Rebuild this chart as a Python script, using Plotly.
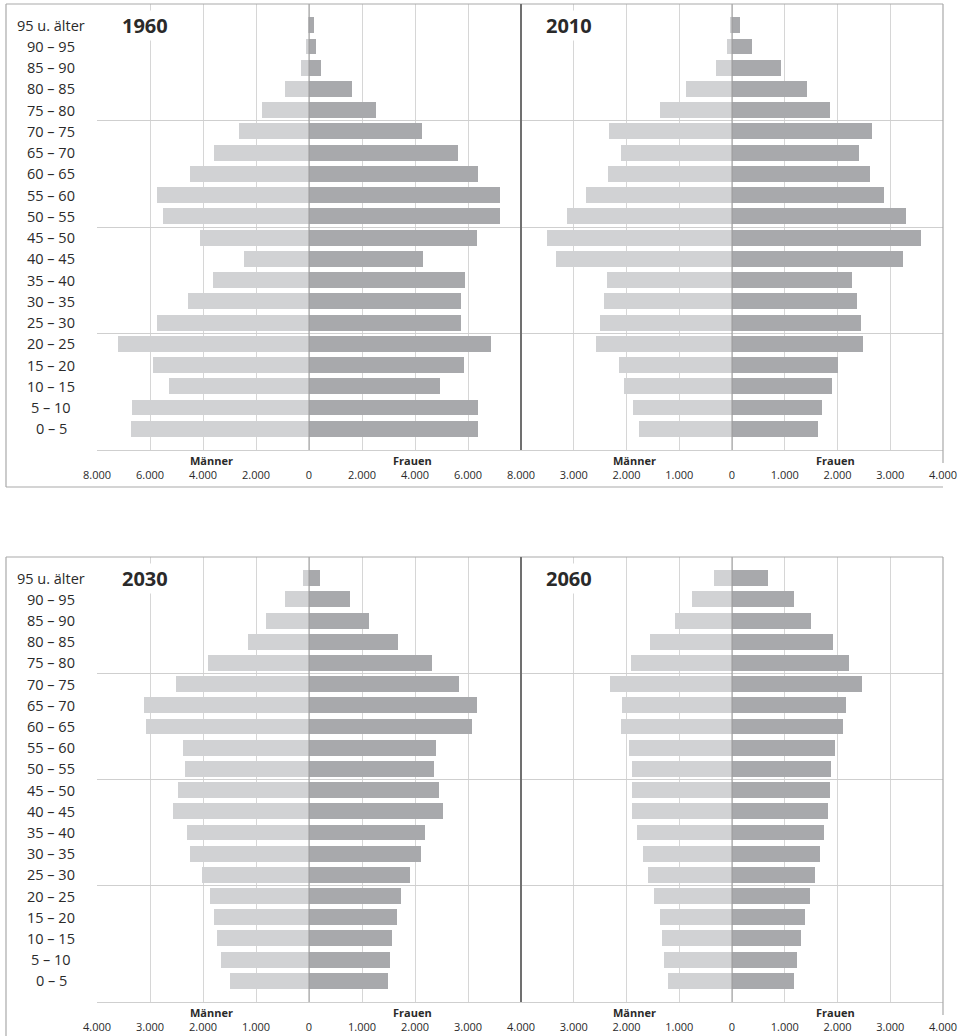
import plotly.graph_objects as go

# ---------------- data (thousands) ----------------
age_groups = ["0 – 5", "5 – 10", "10 – 15", "15 – 20", "20 – 25", "25 – 30", "30 – 35",
              "35 – 40", "40 – 45", "45 – 50", "50 – 55", "55 – 60", "60 – 65", "65 – 70",
              "70 – 75", "75 – 80", "80 – 85", "85 – 90", "90 – 95", "95 u. älter"]

years = ["1960", "2010", "2030", "2060"]

men_1960 = [6715, 6675, 5275, 5880, 7205, 5730, 4555, 3610, 2435, 4100,
            5500, 5730, 4480, 3570, 2625, 1780, 920, 315, 125, 30]
women_1960 = [6385, 6385, 4945, 5855, 6875, 5740, 5740, 5890, 4300, 6345,
              7220, 7220, 6385, 5630, 4265, 2510, 1630, 450, 250, 190]

men_2010 = [1760, 1875, 2045, 2140, 2575, 2500, 2425, 2370, 3335, 3505,
            3125, 2765, 2350, 2105, 2330, 1365, 880, 310, 100, 20]
women_2010 = [1630, 1705, 1895, 2010, 2480, 2445, 2370, 2275, 3240, 3580,
              3295, 2880, 2615, 2405, 2655, 1855, 1420, 925, 385, 160]

men_2030 = [1500, 1655, 1730, 1785, 1860, 2010, 2240, 2295, 2560, 2465,
            2335, 2370, 3075, 3110, 2505, 1905, 1145, 820, 445, 120]
women_2030 = [1490, 1525, 1565, 1660, 1735, 1905, 2115, 2190, 2530, 2455,
              2360, 2400, 3080, 3175, 2830, 2330, 1685, 1135, 775, 210]

men_2060 = [1215, 1290, 1330, 1365, 1480, 1595, 1690, 1805, 1900, 1900,
            1900, 1955, 2110, 2090, 2315, 1920, 1555, 1080, 760, 340]
women_2060 = [1175, 1235, 1310, 1385, 1480, 1575, 1670, 1745, 1825, 1860,
              1880, 1955, 2110, 2165, 2470, 2220, 1920, 1500, 1175, 685]

ticks_1960 = [-8000, -6000, -4000, -2000, 0, 2000, 4000, 6000, 8000]
ticks_left = [-4000, -3000, -2000, -1000, 0, 1000, 2000, 3000, 4000]
ticks_right = [-3000, -2000, -1000, 0, 1000, 2000, 3000, 4000]
group_lines = [4.5, 9.5, 14.5]

label_men = "Männer"
label_women = "Frauen"

# ---------------- styling ----------------
W, H = 961, 1036
MEN_COLOR = "#d1d2d4"
WOMEN_COLOR = "#a8a9ac"
GRID = "#d6d6d6"
FRAME = "#a9a9a9"
TXT = "#2a2a2a"
FONT = "Open Sans"


def px(x):
    return x / W


def py(y):
    return 1 - y / H


def fmt(v):
    return f"{abs(v):,}".replace(",", ".")


panels = [
    ("1960", men_1960, women_1960, "x", "y", (97, 521), (4, 450), 8000, ticks_1960),
    ("2010", men_2010, women_2010, "x2", "y2", (521, 943), (4, 450), 4000, ticks_right),
    ("2030", men_2030, women_2030, "x3", "y3", (97, 521), (557, 1002), 4000, ticks_left),
    ("2060", men_2060, women_2060, "x4", "y4", (521, 943), (557, 1002), 4000, ticks_right),
]

fig = go.Figure()
idx = list(range(len(age_groups)))

annotations = []
shapes = []

for year, men, women, xa, ya, (x0, x1), (y0, y1), rng, ticks in panels:
    fig.add_trace(go.Bar(
        y=idx, x=[-v for v in men], orientation="h", width=0.75,
        marker=dict(color=MEN_COLOR, line=dict(width=0)),
        xaxis=xa, yaxis=ya, name=label_men, showlegend=False,
        customdata=men, hovertemplate="%{customdata}<extra>" + label_men + "</extra>"))
    fig.add_trace(go.Bar(
        y=idx, x=women, orientation="h", width=0.75,
        marker=dict(color=WOMEN_COLOR, line=dict(width=0)),
        xaxis=xa, yaxis=ya, name=label_women, showlegend=False,
        hovertemplate="%{x}<extra>" + label_women + "</extra>"))

    xkey = "xaxis" if xa == "x" else "xaxis" + xa[1:]
    ykey = "yaxis" if ya == "y" else "yaxis" + ya[1:]
    fig.layout[xkey] = dict(
        domain=[px(x0), px(x1)], anchor=ya, range=[-rng, rng],
        tickvals=ticks, ticktext=[fmt(t) for t in ticks],
        showgrid=True, gridcolor=GRID, gridwidth=1, zeroline=False,
        showline=True, linecolor="#cfcfcf", linewidth=1,
        ticks="", ticklabelstandoff=15, automargin=False,
        tickfont=dict(family=FONT, size=11, color=TXT), fixedrange=True)
    fig.layout[ykey] = dict(
        domain=[py(y1), py(y0)], anchor=xa, range=[-1, 20],
        tickvals=group_lines, showticklabels=False, automargin=False,
        showgrid=True, gridcolor="#cfcfcf", gridwidth=1.2, zeroline=False,
        showline=False, fixedrange=True)

    shapes.append(dict(type="line", xref=xa, yref=ya + " domain", x0=0, x1=0, y0=0, y1=1,
                       line=dict(color="#9a9a9a", width=1), layer="above"))

    annotations.append(dict(
        text="<b>" + year + "</b>", xref="paper", yref="paper",
        x=px(x0 + 48), y=py(y0 + 21), xanchor="center", yanchor="middle",
        showarrow=False, bgcolor="white", borderpad=1,
        font=dict(family=FONT, size=20, color=TXT)))

    zero_px = (x0 + x1) / 2
    annotations.append(dict(
        text="<b>" + label_men + "</b>", xref="paper", yref="paper",
        x=px(zero_px - 98), y=py(y1 + 2), xanchor="center", yanchor="top",
        showarrow=False, borderpad=0, font=dict(family=FONT, size=11, color=TXT)))
    annotations.append(dict(
        text="<b>" + label_women + "</b>", xref="paper", yref="paper",
        x=px(zero_px + 103), y=py(y1 + 2), xanchor="center", yanchor="top",
        showarrow=False, borderpad=0, font=dict(family=FONT, size=11, color=TXT)))

    if x0 == 97:
        for i, lab in enumerate(age_groups):
            annotations.append(dict(
                text=lab, xref="paper", yref=ya, x=px(51), y=i,
                xanchor="center", yanchor="middle", showarrow=False,
                font=dict(family=FONT, size=14.5, color=TXT)))


def pline(xa, ya, xb, yb, color=FRAME, width=1.2):
    shapes.append(dict(type="line", xref="paper", yref="paper",
                       x0=px(xa), y0=py(ya), x1=px(xb), y1=py(yb),
                       line=dict(color=color, width=width), layer="above"))


pline(6, 4, 943, 4)
pline(6, 4, 6, 487)
pline(6, 487, 943, 487)
pline(943, 4, 943, 463)
pline(6, 557, 943, 557)
pline(6, 557, 6, 1036)
pline(943, 557, 943, 1015)
pline(521, 4, 521, 450, color="#707070", width=2)
pline(521, 557, 521, 1002, color="#707070", width=2)

fig.update_layout(
    width=W, height=H, autosize=False,
    margin=dict(l=0, r=0, t=0, b=0, pad=0, autoexpand=False),
    paper_bgcolor="white", plot_bgcolor="white",
    barmode="overlay", bargap=0, showlegend=False,
    annotations=annotations, shapes=shapes,
    font=dict(family=FONT, color=TXT),
)

fig.write_html(
    "out.html",
    config={"responsive": False, "displayModeBar": False},
    post_script="document.body.style.margin='0';document.body.style.overflow='hidden';",
)
